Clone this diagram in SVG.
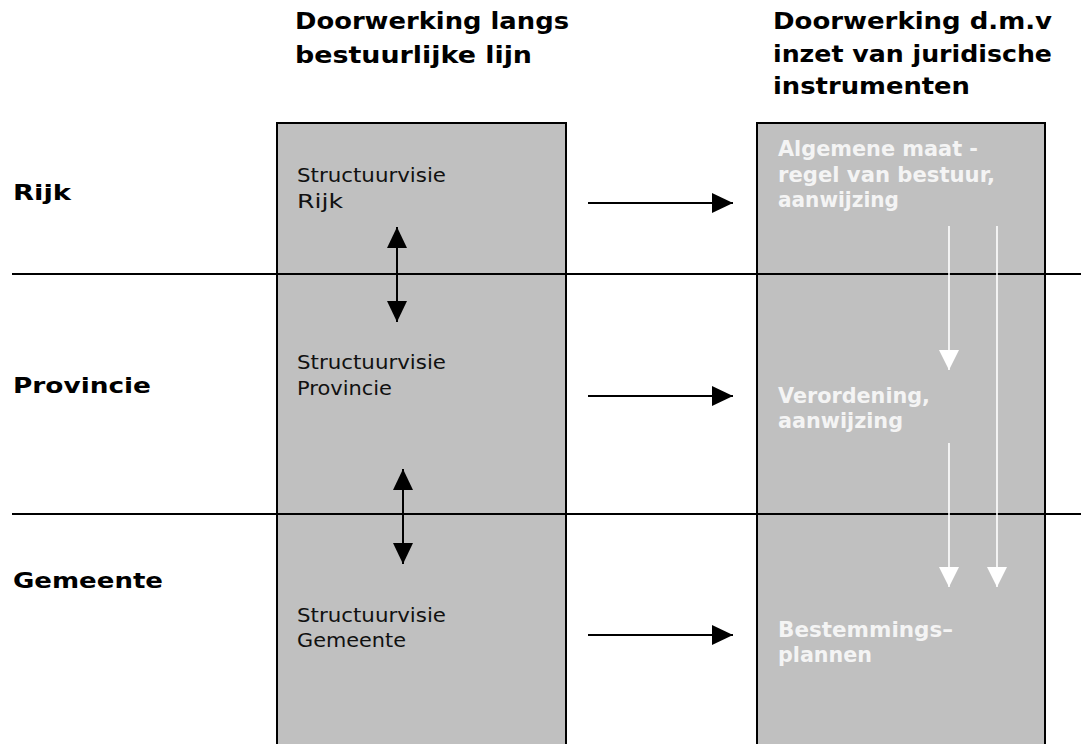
<svg xmlns="http://www.w3.org/2000/svg" width="1081" height="744" viewBox="0 0 1081 744">
  <style>
    .col { fill: #c0c0c0; stroke: #000; stroke-width: 2; }
    .tier { stroke: #000; stroke-width: 2; }
    .head { font-family: "DejaVu Sans", Verdana, sans-serif; font-weight: bold; font-size: 23px; fill: #000; }
    .lvl { font-family: "DejaVu Sans", Verdana, sans-serif; font-weight: bold; font-size: 22px; fill: #000; }
    .sv { font-family: "DejaVu Sans", Verdana, sans-serif; font-size: 20px; fill: #111; }
    .instr { font-family: "DejaVu Sans", Verdana, sans-serif; font-weight: bold; font-size: 21px; fill: #f4f4f4; }
    .blk { stroke: #000; stroke-width: 2; fill: none; }
    .wht { stroke: #fff; stroke-width: 1.6; fill: none; }
  </style>
  <defs>
    <marker id="ah-black" viewBox="0 0 21 20" refX="21" refY="10" markerWidth="21" markerHeight="20" markerUnits="userSpaceOnUse" orient="auto-start-reverse">
      <path d="M0,0 L21,10 L0,20 Z" fill="#000"/>
    </marker>
    <marker id="ah-white" viewBox="0 0 20 20" refX="20" refY="10" markerWidth="20" markerHeight="20" markerUnits="userSpaceOnUse" orient="auto">
      <path d="M0,0 L20,10 L0,20 Z" fill="#fff"/>
    </marker>
  </defs>

  <rect width="1081" height="744" fill="#fff"/>

  <!-- column headings -->
  <g id="heading-bestuurlijk">
    <text class="head" x="295" y="29" textLength="274" lengthAdjust="spacingAndGlyphs">Doorwerking langs</text>
    <text class="head" x="295" y="63" textLength="237" lengthAdjust="spacingAndGlyphs">bestuurlijke lijn</text>
  </g>
  <g id="heading-juridisch">
    <text class="head" x="773" y="29" textLength="279" lengthAdjust="spacingAndGlyphs">Doorwerking d.m.v</text>
    <text class="head" x="773" y="62" textLength="279" lengthAdjust="spacingAndGlyphs">inzet van juridische</text>
    <text class="head" x="773" y="94" textLength="197" lengthAdjust="spacingAndGlyphs">instrumenten</text>
  </g>

  <!-- the two columns -->
  <g id="column-structuurvisies">
    <rect class="col" x="277" y="123" width="289" height="630"/>
  </g>
  <g id="column-instrumenten">
    <rect class="col" x="757" y="123" width="288" height="630"/>
  </g>

  <!-- tier separators -->
  <g id="tiers">
    <line class="tier" x1="12" y1="274" x2="1081" y2="274"/>
    <line class="tier" x1="12" y1="514" x2="1081" y2="514"/>
  </g>

  <!-- government levels -->
  <g id="level-rijk"><text class="lvl" x="13" y="200" textLength="58" lengthAdjust="spacingAndGlyphs">Rijk</text></g>
  <g id="level-provincie"><text class="lvl" x="13" y="393" textLength="138" lengthAdjust="spacingAndGlyphs">Provincie</text></g>
  <g id="level-gemeente"><text class="lvl" x="13" y="588" textLength="150" lengthAdjust="spacingAndGlyphs">Gemeente</text></g>

  <!-- structure visions -->
  <g id="sv-rijk">
    <text class="sv" x="297" y="182" textLength="149" lengthAdjust="spacingAndGlyphs">Structuurvisie</text>
    <text class="sv" x="297" y="208" textLength="46" lengthAdjust="spacingAndGlyphs">Rijk</text>
  </g>
  <g id="sv-provincie">
    <text class="sv" x="297" y="369" textLength="149" lengthAdjust="spacingAndGlyphs">Structuurvisie</text>
    <text class="sv" x="297" y="395" textLength="95" lengthAdjust="spacingAndGlyphs">Provincie</text>
  </g>
  <g id="sv-gemeente">
    <text class="sv" x="297" y="622" textLength="149" lengthAdjust="spacingAndGlyphs">Structuurvisie</text>
    <text class="sv" x="297" y="647" textLength="109" lengthAdjust="spacingAndGlyphs">Gemeente</text>
  </g>

  <!-- legal instruments -->
  <g id="instr-rijk">
    <text class="instr" x="778" y="156" textLength="200" lengthAdjust="spacingAndGlyphs">Algemene maat -</text>
    <text class="instr" x="778" y="182" textLength="217" lengthAdjust="spacingAndGlyphs">regel van bestuur,</text>
    <text class="instr" x="778" y="207" textLength="121" lengthAdjust="spacingAndGlyphs">aanwijzing</text>
  </g>
  <g id="instr-provincie">
    <text class="instr" x="778" y="403" textLength="152" lengthAdjust="spacingAndGlyphs">Verordening,</text>
    <text class="instr" x="778" y="428" textLength="125" lengthAdjust="spacingAndGlyphs">aanwijzing</text>
  </g>
  <g id="instr-gemeente">
    <text class="instr" x="778" y="637" textLength="175" lengthAdjust="spacingAndGlyphs">Bestemmings–</text>
    <text class="instr" x="778" y="662" textLength="94" lengthAdjust="spacingAndGlyphs">plannen</text>
  </g>

  <!-- connectors -->
  <g id="connectors">
    <line class="blk" x1="588" y1="203" x2="733" y2="203" marker-end="url(#ah-black)"/>
    <line class="blk" x1="588" y1="396" x2="733" y2="396" marker-end="url(#ah-black)"/>
    <line class="blk" x1="588" y1="635" x2="733" y2="635" marker-end="url(#ah-black)"/>
    <line class="blk" x1="397" y1="227" x2="397" y2="322" marker-start="url(#ah-black)" marker-end="url(#ah-black)"/>
    <line class="blk" x1="403" y1="469" x2="403" y2="564" marker-start="url(#ah-black)" marker-end="url(#ah-black)"/>
    <line class="wht" x1="949" y1="226" x2="949" y2="370" marker-end="url(#ah-white)"/>
    <line class="wht" x1="949" y1="443" x2="949" y2="587" marker-end="url(#ah-white)"/>
    <line class="wht" x1="997" y1="226" x2="997" y2="587" marker-end="url(#ah-white)"/>
  </g>
</svg>
